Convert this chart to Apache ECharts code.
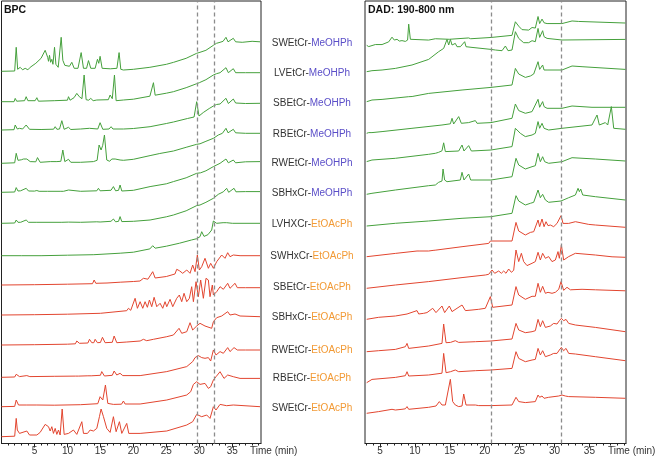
<!DOCTYPE html>
<html><head><meta charset="utf-8">
<script src="https://cdn.jsdelivr.net/npm/echarts@6/dist/echarts.min.js"></script>
<style>html,body{margin:0;padding:0;background:#fff}#c{width:656px;height:459px}</style>
</head><body><div id="c"></div><script>
// ---------- DATA ----------
const sampleNames = ['SWEtCr','LVEtCr','SBEtCr','RBEtCr','RWEtCr','SBHxCr','LVHXCr','SWHxCr','SBEtCr','SBHxCr','RWEtCr','RBEtCr','SWEtCr'];
const solventNames = ['MeOHPh','MeOHPh','MeOHPh','MeOHPh','MeOHPh','MeOHPh','EtOAcPh','EtOAcPh','EtOAcPh','EtOAcPh','EtOAcPh','EtOAcPh','EtOAcPh'];
const tickLabels = [5,10,15,20,25,30,35];
const bpcMarkers = [29.75, 32.27];
const dadMarkers = [20.9, 30.93];

// BPC traces: [time (min), relative intensity]
const bpc1 = [[0,0],[2.0,0.3],[2.23,24],[2.45,2],[2.83,4],[3.2,1.5],[3.59,3],[4.0,1.5],[4.35,4],[5.2,8],[6.0,13],[6.62,21],[7.0,14],[7.13,10],[7.28,16],[7.45,9],[7.63,12],[7.8,7],[8.04,24],[8.25,7],[8.6,4],[9.05,34],[9.3,11],[9.6,6],[9.9,4],[10.3,5],[10.66,9],[11.02,3],[11.6,3],[12.08,18.7],[12.43,3],[12.9,3],[13.19,10.7],[13.54,3],[14.2,3],[14.55,12],[14.75,8],[14.95,15],[15.26,3],[16.5,2.5],[17.5,3],[17.83,18.7],[18.09,2],[18.49,1.3],[20,2],[22.5,4],[25,7],[26.1,9],[28,13],[29.6,18],[29.75,16.5],[30.1,19],[31,21],[32.13,26],[32.6,28],[33.14,29],[33.6,30],[34.04,34],[34.35,29.5],[34.65,30],[35.15,33],[35.5,29.5],[35.76,30],[36.5,29],[38,30],[39.2,29.5]];
const bpc2 = [[0,0],[1.9,0],[2.08,3.3],[2.3,0.5],[3.5,1],[3.74,5],[4.0,1],[5.1,1],[5.36,4],[5.6,0.5],[8,1],[10.0,1.5],[10.16,5],[10.4,1.5],[11.0,4],[11.42,8.3],[11.8,5],[12.2,3],[12.53,26.7],[12.83,2],[13.2,1.5],[13.54,3.3],[13.9,1],[14.45,1.7],[16.2,2],[16.47,6.7],[16.8,3],[17.13,26.7],[17.38,1],[18.49,1.7],[20,2.5],[22.5,5.5],[22.8,6],[23.04,19],[23.3,6.5],[25,8.5],[26.07,10],[28,14],[29.6,18],[29.75,17],[30,19],[31,22],[32.13,26.7],[32.6,28],[33.14,29],[34.04,34],[34.4,29],[34.65,29],[35.15,33],[35.5,29],[35.76,29.3],[37,29],[39.2,29]];
const bpc3 = [[0,0],[1.9,0.3],[2.08,5],[2.4,1],[2.73,1.7],[3.2,1],[3.74,5],[4.25,0.7],[6,0.5],[7.9,0.8],[8.14,3.3],[8.4,0.7],[8.8,1],[9.15,9.3],[9.5,0.7],[10.16,2.7],[10.51,0.5],[12,1],[13.34,1.7],[13.6,0.8],[14.6,1],[14.95,7.3],[15.36,0.7],[16.3,1],[16.62,3.3],[16.9,1],[18.49,1],[20,1.5],[22.53,3.3],[25,6.5],[26.07,8],[28.2,11.5],[29.2,13],[29.6,28.3],[29.95,14],[30.6,17.5],[31.5,21.5],[32.13,24],[32.6,25.5],[33.14,26],[34.04,31.7],[34.4,26.5],[34.65,26.7],[35.15,31],[35.5,27],[35.76,27.3],[37,26.5],[39.2,26.7]];
const bpc4 = [[0,0],[2.0,0.5],[2.23,10],[2.5,3],[2.73,3.3],[3.0,3.5],[3.34,4.3],[3.6,3],[3.84,4.3],[4.35,1.7],[5.2,1.5],[5.46,5.7],[5.86,1],[7.4,1.7],[8.4,1.7],[9.0,2],[9.3,13.3],[9.6,1.7],[10.16,4],[10.51,1],[12,1],[13.94,1.7],[14.5,3],[14.8,18.3],[15.1,13.3],[15.35,18],[15.61,28.3],[15.96,3.3],[16.4,2],[16.72,4.3],[17.0,3.3],[17.23,4.3],[17.98,3.3],[18.49,3],[20,4],[22.53,7.7],[24,9.8],[26.07,12.3],[28,16],[29.6,19],[29.75,18.3],[30.1,19.5],[31,22],[32.13,25],[32.88,28.3],[33.5,30],[34.04,35],[34.35,30.5],[34.65,30.5],[35.15,34],[35.5,30.5],[35.76,30.5],[37,30],[39.2,30]];
const bpc5 = [[0,0],[2.0,0.3],[2.23,4.7],[2.5,1.3],[2.9,1.5],[3.74,4],[4.1,1.3],[5.0,1.2],[5.36,1.8],[5.7,1],[7,1],[9.0,1],[9.15,2.3],[9.4,1],[10.16,2.3],[10.4,1],[12,1],[14.45,1.5],[14.7,4],[14.95,1.5],[16.6,2],[16.97,5.7],[17.3,1.5],[17.75,2],[17.98,7.3],[18.24,1.3],[18.49,1.3],[20,2],[22.53,5.7],[25,8.5],[26.07,10.7],[28,14.5],[29.6,19],[29.75,18],[30.2,19.5],[31,21.5],[32.13,25.7],[33.14,29],[34.04,33.3],[34.4,29.5],[34.65,29],[35.15,32.3],[35.5,29.5],[35.76,29],[37,30.5],[39.2,30.7]];
const bpc6 = [[0,0],[2.0,0.3],[2.23,3.3],[2.5,1],[2.9,1],[3.74,3.3],[4.1,1],[5.36,1],[9.15,1],[9.3,1.3],[10.16,1.2],[12,1],[14.45,1.5],[14.7,2.3],[14.95,1.3],[16.6,2],[16.97,4.3],[17.3,1.5],[17.75,2],[17.98,6.7],[18.24,1.7],[18.49,1.5],[20,2],[22.53,3.3],[25,6.5],[26.07,8.3],[28,12.5],[29.6,17.7],[29.75,19],[30.1,18.3],[31,21],[32.13,25],[32.88,29],[33.64,31.5],[34.14,35],[34.45,31],[34.65,31],[35.26,35],[35.55,31.5],[35.76,31],[37,31.7],[39.2,31.7]];
const bpc7 = [[0,0],[3,0],[6,0],[10,0.5],[14,1],[18,2.5],[20,3.5],[22.5,6.8],[22.93,10],[23.3,7.5],[25,9.5],[27,12.5],[28.8,15.7],[29.6,17],[30.1,19],[30.36,24],[30.71,19.3],[31.3,21],[31.87,25.7],[32.13,34.7],[32.4,33.5],[32.63,32.4],[33.6,33],[34.14,33],[35,32.4],[39.2,32.4]];
const bpc8 = [[0,0],[5,0.3],[10,0.8],[13.8,1.3],[14.05,5],[14.3,1.7],[16,2],[18,2.8],[20,3.5],[21.0,4],[21.52,6.7],[21.8,5.5],[22.2,5.8],[22.93,13.3],[23.3,7],[23.54,6.7],[25,8.5],[26.3,11],[26.57,15.7],[26.97,14.3],[27.48,11.7],[28.09,15],[28.59,11.7],[28.99,20],[29.35,13.3],[29.7,30],[30.0,15],[30.36,18.3],[30.86,26.7],[31.37,16.7],[31.72,21.7],[32.13,16.7],[32.63,23.3],[33.39,30],[33.89,26.7],[34.3,32.3],[34.65,28.3],[35.15,30],[36.17,29.3],[39.2,29.3]];
const bpc9 = [[0,0],[5,0.3],[10,0.8],[15,1.7],[18.99,4.3],[19.25,6.7],[19.6,4.7],[20.26,16.7],[20.61,6.7],[21.02,13.3],[21.42,6.7],[21.77,13.3],[22.12,7.7],[22.43,15],[22.78,8.3],[23.14,17.7],[23.54,8.3],[24.05,11.7],[24.45,6.7],[24.8,13.3],[25.06,8.3],[25.56,15.7],[25.97,8.3],[26.57,16.7],[26.97,20],[27.33,13.3],[27.68,21.7],[28.09,13.3],[28.49,16.7],[28.84,28.3],[29.1,13.3],[29.5,33.3],[29.85,18.3],[30.2,35],[30.61,16.7],[31.01,36.7],[31.37,35],[31.62,18.3],[31.97,30],[32.13,20],[32.63,23.3],[33.14,28.3],[33.64,25.7],[34.3,31.7],[34.65,26.7],[35.41,31.7],[35.76,27.3],[37,27.3],[39.2,27.3]];
const bpc10 = [[0,0],[5,0.3],[10,0.8],[11.2,1.2],[11.42,4],[11.82,1.7],[13.1,2],[13.34,5.7],[13.69,2.3],[14.0,2.3],[14.2,5.7],[14.55,2.3],[15.0,2.5],[15.31,7.7],[15.71,2.3],[16.8,2.7],[17.08,9],[17.48,2.3],[19,3],[21.02,4],[21.52,5.7],[22.02,4.3],[23.04,5.7],[25.06,8.3],[26.07,10],[26.92,16.7],[27.33,11.7],[28.09,13.3],[28.59,22.3],[28.99,15],[29.6,19],[30.1,21.7],[30.86,19],[31.87,16.7],[32.13,23.3],[32.63,27.3],[33.39,29],[34.3,33.3],[34.65,30],[35.41,31],[36.17,29],[39.2,28.3]];
const bpc11 = [[0,0],[2.0,0.3],[2.23,3],[2.73,0.7],[3.84,1.7],[4.3,0.7],[8,1],[11.2,1.2],[11.42,2.3],[11.7,1.2],[13.1,1.5],[13.34,3],[13.6,1.5],[15.0,2],[15.2,5.7],[15.61,1.3],[16.8,2],[17.08,6.3],[17.48,2.3],[17.98,4],[18.39,1.7],[21.02,1.7],[25.06,5.7],[28.09,10.7],[28.99,15.7],[29.35,19.7],[29.85,21.7],[30.36,19.7],[30.86,19],[31.37,19.7],[31.72,16.3],[32.13,27.3],[32.53,22.3],[33.14,25.7],[33.64,24],[34.3,29.7],[34.65,25.7],[35.26,29.7],[35.76,27.3],[37,27.3],[39.2,27.3]];
const bpc12 = [[0,0],[2.0,0.3],[2.23,6.7],[2.58,1.7],[3.84,1.7],[5.36,1.7],[8,1.5],[12,2],[14.6,3],[14.95,10],[15.36,6.7],[15.76,21.7],[16.12,3.3],[16.97,2.3],[18.2,2.5],[18.49,5.7],[18.74,2.7],[21.02,2.7],[25.06,6.7],[28.09,11.7],[28.69,15],[29.1,22.3],[29.6,25],[30.1,22.3],[30.86,23.3],[31.37,18.3],[31.72,20],[32.13,26.7],[32.53,30],[33.14,35],[33.74,28.3],[34.3,31.7],[35.15,30],[36.17,28.3],[39.2,28.3]];
const bpc13 = [[0,0],[2.0,0.5],[2.23,18.3],[2.4,6.7],[2.73,3.3],[3.84,5.7],[4.25,1.7],[5.36,1.7],[5.86,4.3],[6.62,12.3],[7.13,10],[7.38,5.7],[7.63,10],[7.88,3.3],[8.14,8.3],[8.39,2.3],[8.64,6.7],[8.89,1.7],[9.2,27.7],[9.5,2.3],[10.16,3.3],[10.91,6.7],[11.42,2.3],[12.18,15],[12.43,3.3],[13.04,3.3],[13.44,6.7],[13.94,5.7],[14.45,8.3],[14.85,20],[15.1,27.7],[15.46,20],[15.96,8.3],[16.47,4.3],[16.97,20],[17.38,5],[17.88,15],[18.24,3.3],[18.99,13.3],[19.3,3.3],[21.02,3.3],[25.06,5.7],[28.09,11.7],[28.99,15],[29.6,22.3],[30.36,20],[31.12,21.7],[31.62,18.3],[32.13,30],[32.53,26.7],[33.14,32.3],[34.14,31],[35.15,31.7],[39.2,30]];

// DAD traces: [time (min), relative absorbance]
const dad1 = [[3.09,2.3],[3.38,0.7],[3.62,0],[4.33,3.3],[5.29,3.3],[6.24,6.7],[6.72,12.7],[7.05,9],[7.44,10],[7.77,7.7],[8.15,8.3],[8.63,7.3],[8.95,9],[9.11,29.3],[9.35,10],[9.58,7.7],[11.97,9],[12.93,10.7],[13.17,9],[14.93,10],[17.7,11.7],[17.99,10.7],[20.9,12.3],[23.91,15],[24.39,32.3],[24.87,26.7],[25.34,22.3],[26.3,21.7],[26.78,25],[27.25,24.3],[27.64,39],[27.87,30],[28.21,35.7],[28.5,31],[28.93,30],[29.16,29],[31.07,30],[32.51,33.3],[33.46,32.7],[40.15,30.7]];
const dad2 = [[3.09,0],[3.85,1],[5.29,1.7],[7.2,3.3],[9.58,6.7],[11.97,12.3],[13.4,20],[14.12,23.3],[14.6,32.3],[14.84,26.7],[15.08,32.3],[15.32,26.7],[15.79,28.3],[16.03,25],[16.51,25],[17.13,30],[17.32,25],[18.18,24.3],[20.9,22.3],[21.52,21.7],[22.48,21],[22.96,25.7],[23.34,21],[23.91,21.7],[24.39,40],[24.87,33.3],[25.58,29],[26.3,29],[26.78,31],[27.25,30],[27.64,43.3],[27.87,34.3],[28.3,41],[28.5,35],[28.93,33.3],[29.16,32.3],[31.07,31.7],[40.15,32.3]];
const dad3 = [[3.09,0],[3.85,1.7],[5.29,2.3],[9.11,5],[9.35,6],[9.6,5.2],[11.97,8.3],[16.75,11.7],[20.9,14.3],[23.91,16.7],[24.39,33.3],[24.87,27.7],[25.82,24.3],[26.54,25.7],[27.02,27.7],[27.64,40],[27.87,32.3],[28.3,36.7],[28.5,31.7],[28.93,31.7],[29.16,30.7],[31.07,31.7],[32.51,35.7],[33.94,35],[40.15,32.3]];
const dad4 = [[3.09,0],[3.38,0.7],[3.85,0.7],[5.29,1.7],[9.58,5],[13.88,8.3],[15.08,9.5],[15.32,15],[15.55,9.3],[16.27,16.7],[16.65,10],[17.7,10.7],[18.66,12.7],[18.9,10],[20.9,10.7],[23.91,15],[24.39,29.3],[24.87,22.7],[25.82,20],[26.78,21.7],[27.02,23.3],[27.64,34],[27.87,26],[28.3,31.7],[28.5,26.7],[28.93,25],[29.16,23.3],[31.07,25],[32.51,27.3],[35.37,26],[40.15,26]];
const dad5 = [[3.09,1.7],[3.85,3.3],[7.2,5],[11.97,9],[12.93,10],[13.4,11],[13.88,12.5],[14.12,20.5],[14.36,11.7],[16.27,12.3],[16.75,18.3],[17.03,12.3],[17.7,17.7],[18.09,12.3],[20.9,13.3],[23.91,16.7],[24.39,35],[25.1,30],[25.82,26.7],[26.78,28.3],[27.25,30],[27.64,41.7],[27.87,35],[28.21,40],[28.5,35],[29.16,33.3],[31.07,35],[35.37,38.3],[36.09,48.3],[36.42,38.3],[37.28,40.7],[37.62,38.3],[38.14,56.7],[38.48,35],[40.15,34]];
const dad6 = [[3.09,0.7],[3.85,1.7],[7.2,5],[11.97,9.3],[12.93,10],[13.4,12.7],[13.88,14],[14.03,26],[14.26,15],[14.6,13.3],[16.51,15],[16.75,22.7],[17.03,15],[17.7,21],[17.99,15],[20.9,15],[23.91,18.3],[24.48,36.7],[24.87,30],[25.82,26],[26.78,28.3],[27.25,29.3],[27.64,41.7],[27.97,33.3],[28.3,38.3],[28.59,33.3],[29.16,31.7],[31.07,33.3],[32.51,37.3],[35.85,36],[40.15,34]];
const dad7 = [[3.09,0],[7.2,2.7],[11.97,5],[16.75,7.7],[20.9,9.3],[23.91,12.7],[24.48,30.3],[24.87,25],[25.82,21],[26.54,22.7],[27.02,23.7],[27.64,36],[27.97,28.3],[28.3,31.7],[28.69,26],[29.16,23.7],[30.93,25],[32.03,28.3],[32.99,31],[33.37,37.7],[33.56,34.3],[33.75,37],[34.04,31],[35.85,29.3],[40.15,26]];
const dad8 = [[3.09,0],[7.2,3.3],[10.3,5.7],[10.45,6.5],[10.6,5.7],[11.97,5.7],[12.6,6.3],[12.75,7.5],[12.9,6.5],[16.75,10],[20.57,13.3],[20.81,15.7],[21.05,14.3],[23.91,15.7],[24.48,34.3],[24.87,25.7],[25.82,21.7],[26.54,24.3],[27.02,25],[27.64,36.7],[27.87,30],[28.21,37.7],[28.5,30],[28.78,35],[29.07,31],[29.4,31.7],[29.88,30],[30.36,33.3],[30.93,41],[31.22,33.3],[32.03,33.3],[32.99,35],[34.9,32.3],[35.85,31.7],[40.15,29.4]];
const dad9 = [[3.09,0],[7.2,3.3],[11.97,6.7],[16.75,10.7],[20.09,13.3],[20.57,14],[21.05,18.3],[21.43,15],[22.0,17.3],[22.38,15],[22.72,17.3],[23.05,15],[23.43,19.3],[23.82,16],[24.15,18],[24.48,38.3],[24.87,26.7],[25.25,35],[25.58,26.7],[26.06,22.7],[26.78,25],[27.25,26.7],[27.64,36],[27.97,28.3],[28.3,35],[28.69,30],[29.16,31.7],[29.64,26.7],[30.12,28.3],[30.5,36.7],[30.69,30],[30.98,43.3],[31.31,28.3],[32.03,31.7],[32.99,35],[35.85,33.3],[38.24,31.5],[40.15,31]];
const dad10 = [[3.09,0],[4.81,2],[7.2,3.3],[8.87,5.3],[9.11,4.3],[10.3,8.7],[10.54,5.3],[11.26,6],[11.73,6.7],[12.55,11],[13.02,6.7],[13.88,13.3],[14.26,6.7],[14.93,13.3],[15.32,7.7],[16.75,14.3],[17.23,8.7],[18.18,9.3],[19.14,10],[20.09,11],[20.81,22.7],[21.14,12],[23.91,14.3],[24.48,32.7],[24.87,24.3],[25.82,20],[26.78,23],[27.25,23],[27.64,36],[27.97,27],[28.3,33],[28.69,26],[29.07,27],[29.64,26],[30.12,27],[30.6,30],[30.93,37.7],[31.31,29],[31.79,32],[32.27,29.5],[33.94,30],[35.85,29.5],[40.15,28.5]];
const dad11 = [[3.09,0],[4.81,1],[7.2,2.3],[8.63,5],[8.87,8.3],[9.11,3.3],[10.3,4.3],[11.97,5.7],[13.88,8.3],[14.12,27.7],[14.46,9],[15.1,9.3],[15.79,11],[16.27,9.3],[18.66,10],[20.9,10.7],[23.91,12.7],[24.48,28.3],[24.87,21.7],[25.82,19],[26.78,20],[27.25,21],[27.64,32.3],[27.97,25],[28.3,31],[28.69,24.3],[29.4,25.7],[29.88,28.3],[30.36,27.7],[30.69,31],[30.98,33.3],[31.31,31],[31.65,32.3],[32.03,28.3],[32.99,26.7],[35.85,24.3],[40.15,20]];
const dad12 = [[3.09,-1],[3.85,2.3],[7.2,4.3],[8.63,6],[8.87,10],[9.11,5.7],[11.97,6.7],[13.88,8.5],[14.12,28.3],[14.46,9],[15.1,10],[15.79,11.7],[16.27,10],[18.66,11],[20.9,11.7],[23.91,13.3],[24.48,30],[24.87,23.3],[25.82,20],[26.78,21.7],[27.25,22.3],[27.64,33.3],[27.97,26.7],[28.3,31],[28.69,25],[29.4,26.7],[29.88,28.3],[30.36,28.3],[30.69,31.7],[30.98,34.3],[31.31,31],[31.65,33.3],[32.03,28.3],[32.99,27.7],[35.85,25],[40.15,21]];
const dad13 = [[3.09,0],[4.81,1.7],[6.72,4],[7.2,3.3],[8.15,4],[8.63,4.5],[8.87,6.7],[9.11,4],[11.97,6],[13.02,7.3],[13.5,11.7],[13.88,8.3],[14.36,8.3],[15.08,34],[15.41,11.7],[15.79,8.3],[16.27,6.7],[16.75,7.3],[16.99,19.3],[17.32,8.3],[18.66,8.3],[19.14,7.7],[20.9,7.7],[23.91,8.3],[24.48,16],[24.87,11.7],[25.82,10.7],[27.25,11.7],[27.64,18.3],[27.87,16],[28.21,17.3],[28.5,15],[29.16,16],[30.6,17.3],[31.07,18.3],[31.55,17.3],[32.03,16.7],[35.85,16],[40.15,15]];

const bpcTraces = [bpc1,bpc2,bpc3,bpc4,bpc5,bpc6,bpc7,bpc8,bpc9,bpc10,bpc11,bpc12,bpc13];
const dadTraces = [dad1,dad2,dad3,dad4,dad5,dad6,dad7,dad8,dad9,dad10,dad11,dad12,dad13];

// ---------- LAYOUT (pixel positions, not data) ----------
const bpcBase = [71.3,101.7,130,163.3,192.3,223.3,255.7,285,315,345,377.3,406.7,436.7];
const dadBase = [45,71.7,101.7,133.3,163.3,195,226,256.7,288.3,319.3,351.7,381.7,413.3];
const labelY = [43,73,103,134,163,193,224,256,287,317,350,378,408];
const panels = [
  {left:1.5, right:261, min:0, max:39.35, base:bpcBase, traces:bpcTraces, markers:bpcMarkers, title:'BPC', titleX:4, timeX:250},
  {left:365, right:626, min:2.85, max:40.24, base:dadBase, traces:dadTraces, markers:dadMarkers, title:'DAD: 190-800 nm', titleX:368, timeX:608}
];
const FRAME_TOP = 1, FRAME_BOTTOM = 443.5;
const GREEN = '#45a03c', RED = '#e2452f';
const FONT = '"Liberation Sans", Arial, sans-serif';

const grid = [], xAxis = [], yAxis = [], series = [], graphic = [];
const allMinutes = []; for (let m = 1; m <= 40; m++) allMinutes.push(m);

panels.forEach(p => {
  const g = grid.length;
  grid.push({left:p.left, top:FRAME_TOP, width:p.right-p.left, height:FRAME_BOTTOM-FRAME_TOP,
    show:true, borderColor:'#222', borderWidth:1, backgroundColor:'transparent'});
  const xi = xAxis.length;
  xAxis.push({gridIndex:g, type:'value', min:p.min, max:p.max, position:'bottom',
    axisLine:{show:true, onZero:false, lineStyle:{color:'#222', width:1}},
    axisTick:{show:true, customValues:tickLabels, length:4, lineStyle:{color:'#222'}},
    axisLabel:{show:true, customValues:tickLabels, fontSize:10, color:'#333', margin:3, fontFamily:FONT},
    splitLine:{show:false}});
  xAxis.push({gridIndex:g, type:'value', min:p.min, max:p.max, position:'bottom',
    axisLine:{show:false}, axisLabel:{show:false},
    axisTick:{show:true, customValues:allMinutes.filter(m => m > p.min && m < p.max), length:2, lineStyle:{color:'#222'}},
    splitLine:{show:false}});
  const yi = yAxis.length;
  yAxis.push({gridIndex:g, type:'value', min:0, max:1, show:false});
  series.push({type:'line', xAxisIndex:xi, yAxisIndex:yi, data:[[p.min,null]], silent:true,
    markLine:{silent:true, symbol:['none','none'], label:{show:false},
      lineStyle:{color:'#8c8c8c', width:1.3, type:[4,3]},
      data:p.markers.map(v => ({xAxis:v}))}});
  p.traces.forEach((tr, i) => {
    const gi = grid.length;
    grid.push({left:p.left, top:p.base[i]-60, width:p.right-p.left, height:70});
    const txi = xAxis.length;
    xAxis.push({gridIndex:gi, type:'value', min:p.min, max:p.max, show:false});
    const tyi = yAxis.length;
    yAxis.push({gridIndex:gi, type:'value', min:-10, max:60, show:false});
    series.push({type:'line', xAxisIndex:txi, yAxisIndex:tyi, data:tr, showSymbol:false, silent:true,
      lineStyle:{color:i < 7 ? GREEN : RED, width:1}, itemStyle:{color:i < 7 ? GREEN : RED}});
  });
  graphic.push({type:'text', x:p.titleX, y:10, style:{text:p.title, font:'bold 10.5px ' + FONT, fill:'#111', verticalAlign:'middle'}});
  graphic.push({type:'text', x:p.timeX, y:451, style:{text:'Time (min)', font:'10px ' + FONT, fill:'#333', verticalAlign:'middle'}});
});

sampleNames.forEach((n, i) => {
  const solv = solventNames[i];
  const key = solv === 'MeOHPh' ? 'm' : 'e';
  graphic.push({type:'text', x:312, y:labelY[i], style:{
    text:'{a|' + n + '-}{' + key + '|' + solv + '}',
    align:'center', verticalAlign:'middle',
    rich:{a:{fill:'#333', fontSize:10, fontFamily:FONT},
          m:{fill:'#5a4ec8', fontSize:10, fontFamily:FONT},
          e:{fill:'#f29a35', fontSize:10, fontFamily:FONT}}}});
});

const chart = echarts.init(document.getElementById('c'), null, {renderer:'canvas'});
chart.setOption({animation:false, grid, xAxis, yAxis, series, graphic});
</script></body></html>
